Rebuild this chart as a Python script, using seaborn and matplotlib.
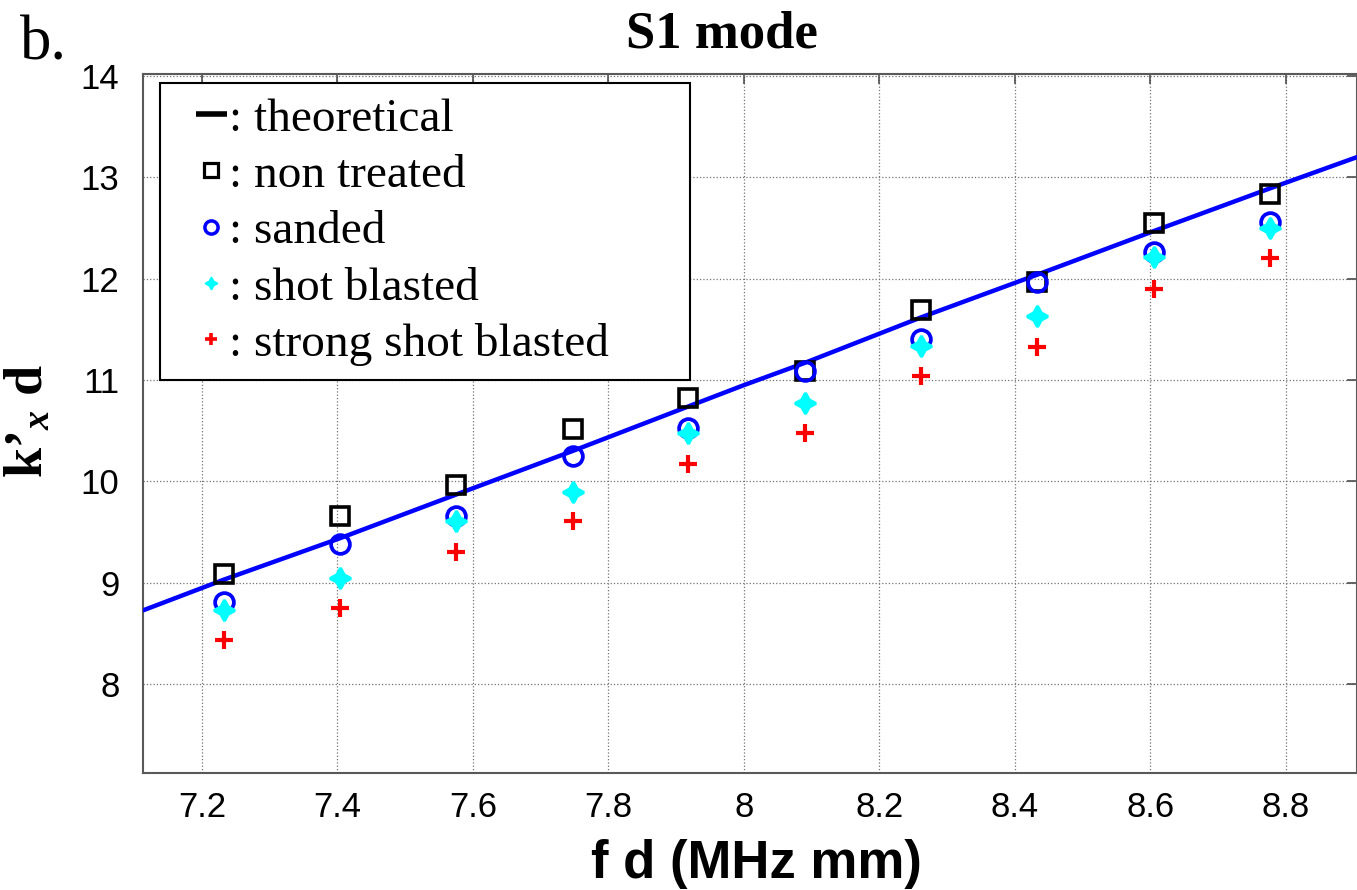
import matplotlib
matplotlib.use('Agg')
import matplotlib.pyplot as plt
import seaborn as sns
from matplotlib.lines import Line2D
from matplotlib.legend_handler import HandlerLine2D

# valeurs (S1 mode)
fd = [7.232, 7.404, 7.575, 7.747, 7.918, 8.090, 8.262, 8.433, 8.605, 8.776]
non_treated = [9.09, 9.66, 9.96, 10.52, 10.82, 11.09, 11.69, 11.97, 12.55, 12.84]
sanded = [8.81, 9.38, 9.66, 10.25, 10.53, 11.09, 11.41, 11.97, 12.26, 12.56]
shot_blasted = [8.73, 9.05, 9.61, 9.90, 10.48, 10.77, 11.34, 11.63, 12.21, 12.50]
strong_shot_blasted = [8.44, 8.75, 9.30, 9.61, 10.17, 10.48, 11.04, 11.33, 11.90, 12.20]

theo_fd = [7.114, 7.232, 7.404, 7.575, 7.747, 7.918, 8.000, 8.090, 8.262, 8.433, 8.605, 8.776, 8.905]
theo_k = [8.73, 9.03, 9.44, 9.87, 10.30, 10.74, 10.95, 11.17, 11.62, 12.04, 12.47, 12.89, 13.20]

x_ticks = [7.2, 7.4, 7.6, 7.8, 8.0, 8.2, 8.4, 8.6, 8.8]
x_labels = ['7.2', '7.4', '7.6', '7.8', '8', '8.2', '8.4', '8.6', '8.8']
y_ticks = [8, 9, 10, 11, 12, 13, 14]
legend_labels = [': theoretical', ': non treated', ': sanded', ': shot blasted', ': strong shot blasted']

sns.set_theme(style='white')
plt.rcParams['font.family'] = ['Liberation Sans', 'DejaVu Sans']
plt.rcParams['text.color'] = 'black'
plt.rcParams['axes.labelcolor'] = 'black'
plt.rcParams['mathtext.fontset'] = 'custom'
plt.rcParams['mathtext.it'] = 'Liberation Serif:italic:bold'
plt.rcParams['mathtext.rm'] = 'Liberation Serif:bold'

W, H = 1357, 890
fig = plt.figure(figsize=(W / 100, H / 100), dpi=100)
ax = fig.add_axes([143 / W, 1 - 772.7 / H, 1 - 143 / W, (772.7 - 74) / H])

# courbe theorique
sns.lineplot(x=theo_fd, y=theo_k, ax=ax, color='#0000ff', linewidth=3.2,
             estimator=None, sort=False, zorder=3)

# mesures
star4 = (4, 1, 0)
series = [
    (non_treated, dict(marker='s', markersize=12.5, markerfacecolor='none',
                       markeredgecolor='black', markeredgewidth=2.6, color='black')),
    (sanded, dict(marker='o', markersize=13.5, markerfacecolor='none',
                  markeredgecolor='#0000ff', markeredgewidth=2.7, color='#0000ff')),
    (shot_blasted, dict(marker=star4, markersize=15, markerfacecolor='#00ffff',
                        markeredgecolor='#00ffff', markeredgewidth=2.2, color='#00ffff')),
    (strong_shot_blasted, dict(marker='+', markersize=13, markeredgecolor='#ff0000',
                               markeredgewidth=3, color='#ff0000')),
]
for vals, kw in series:
    sns.lineplot(x=fd, y=vals, ax=ax, estimator=None, linestyle='none', zorder=4, **kw)

ax.set_xlim(7.113, 8.905)
ax.set_ylim(7.126, 14.02)
ax.set_xticks(x_ticks)
ax.set_xticklabels(x_labels)
ax.set_yticks(y_ticks)
ax.grid(True, linestyle=':', color='0.45', linewidth=0.9)
ax.tick_params(axis='both', direction='in', length=7, width=1.2, color='0.3',
               labelsize=25, labelcolor='black', top=True, right=True)
ax.tick_params(axis='x', pad=13)
ax.tick_params(axis='y', pad=17)
for s in ax.spines.values():
    s.set_color('0.35')
    s.set_linewidth(1.5)

ax.set_xlabel('f d (MHz mm)', fontsize=38, fontweight='bold', color='black')
ax.xaxis.set_label_coords((756 - 143) / (W - 143), (772.7 - 878) / 698.7)
ax.xaxis.label.set_va('baseline')
ax.set_ylabel("k’$_{x}$ d", fontsize=39, fontweight='bold', family='Liberation Serif',
              color='black')
ax.yaxis.set_label_coords((55 - 143) / (W - 143), (772.7 - 421) / 698.7)

fig.text(722 / W, 1 - 47 / H, 'S1 mode', ha='center', va='baseline',
         fontsize=38, fontweight='bold', family='Liberation Serif', color='black')
fig.text(20 / W, 1 - 60 / H, 'b.', ha='left', va='baseline',
         fontsize=45, family='Liberation Serif', color='black')

handles = [
    Line2D([], [], color='black', linewidth=4, solid_capstyle='butt'),
    Line2D([], [], linestyle='none', marker='s', markersize=9.5, markerfacecolor='none',
           markeredgecolor='black', markeredgewidth=2.3),
    Line2D([], [], linestyle='none', marker='o', markersize=9.5, markerfacecolor='none',
           markeredgecolor='#0000ff', markeredgewidth=2.5),
    Line2D([], [], linestyle='none', marker=star4, markersize=9, markerfacecolor='#00ffff',
           markeredgecolor='#00ffff', markeredgewidth=1.2),
    Line2D([], [], linestyle='none', marker='+', markersize=9, markeredgecolor='#ff0000',
           markeredgewidth=2.6),
]
shifted = HandlerLine2D(xpad=0.45)
leg = ax.legend(handles, legend_labels, loc='upper left',
                bbox_to_anchor=(160 / W, 1 - 382 / H, 530 / W, 299 / H),
                bbox_transform=fig.transFigure, mode='expand', borderaxespad=0,
                prop={'family': 'Liberation Serif', 'size': 34},
                frameon=True, fancybox=False, framealpha=1, edgecolor='black',
                handlelength=1.10, handletextpad=0.06, borderpad=0.31,
                labelspacing=0.28, handler_map={Line2D: shifted})
leg.get_frame().set_linewidth(1.5)
leg.set_zorder(10)
for t in leg.get_texts():
    t.set_color('black')

fig.savefig('out.png', dpi=100)
